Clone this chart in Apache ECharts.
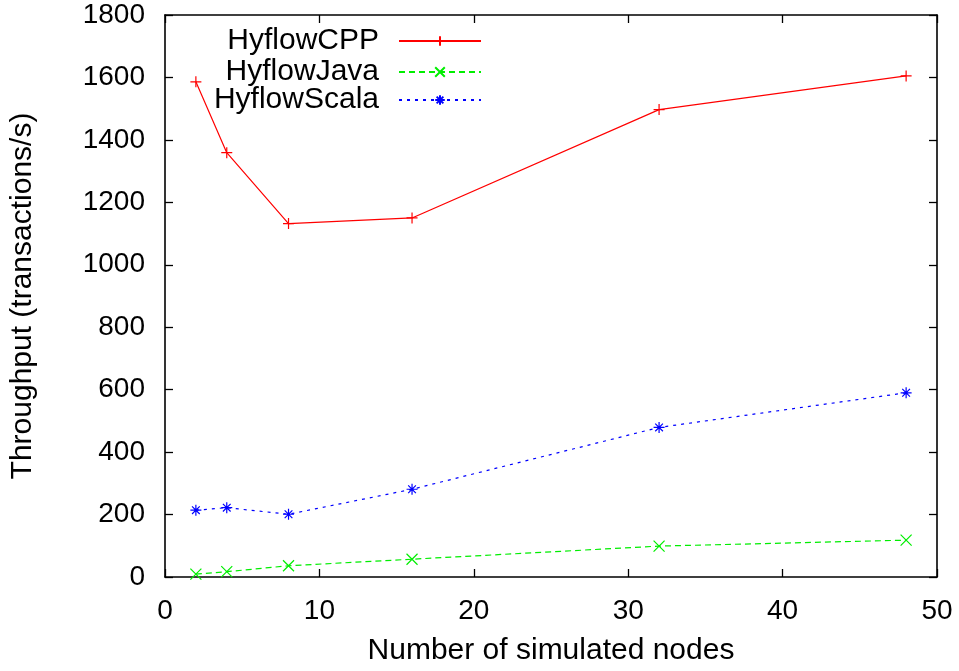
<!DOCTYPE html>
<html>
<head>
<meta charset="utf-8">
<script src="https://cdn.jsdelivr.net/npm/echarts@6/dist/echarts.min.js"></script>
<style>
  html, body { margin: 0; padding: 0; background: #fff; }
  #chart { width: 959px; height: 671px; }
</style>
</head>
<body>
<div id="chart"></div>
<script>
const nodes = [2, 4, 8, 16, 32, 48]
const cppValues = [1586, 1359, 1132, 1150, 1497, 1605]
const javaValues = [9, 17, 36, 57, 99, 118]
const scalaValues = [214, 222, 201, 281, 479, 590]
const seriesNames = ['HyflowCPP', 'HyflowJava', 'HyflowScala']

const font = 'Liberation Sans, Arial, Helvetica, sans-serif'
const plusPath = 'path://M0,5L10,5M5,0L5,10'
const crossPath = 'path://M0,0L10,10M10,0L0,10'
const starPath = 'path://M0,5L10,5M5,0L5,10M1.5,1.5L8.5,8.5M8.5,1.5L1.5,8.5'

const mChart = echarts.init(document.getElementById('chart'))

const pairs = vals => nodes.map((n, i) => [n, vals[i]])

const makeSeries = (name, vals, color, symbol, lineType) => ({
    name,
    type: 'line',
    data: pairs(vals),
    symbol,
    symbolSize: 11,
    showAllSymbol: true,
    lineStyle: { color, width: 1.2, type: lineType },
    itemStyle: { color, borderColor: color, borderWidth: 1.2 },
    emphasis: { disabled: true },
    animation: false
})

// gnuplot style key: text on the left, sample line on the right
const legendRow = (name, top) => ({
    data: [name],
    right: 477,
    top,
    align: 'right',
    padding: 0,
    itemWidth: 82,
    itemHeight: 12,
    selectedMode: false,
    textStyle: { fontFamily: font, fontSize: 30, color: '#000', padding: [0, 15, 0, 0] }
})

const axisLine = { show: true, onZero: false, lineStyle: { color: '#000', width: 1.6 } }
const axisTick = { show: true, inside: true, length: 8, lineStyle: { color: '#000', width: 1.3 } }
const tickFont = { fontFamily: font, fontSize: 28, color: '#000' }
const nameFont = { fontFamily: font, fontSize: 30, color: '#000' }

const mirrorAxis = {
    axisLabel: { show: false },
    axisLine,
    axisTick,
    splitLine: { show: false }
}

const option = {
    backgroundColor: '#fff',
    animation: false,
    grid: { left: 162, right: 22, top: 15, bottom: 92 },
    legend: [
        legendRow(seriesNames[0], 26),
        legendRow(seriesNames[1], 57),
        legendRow(seriesNames[2], 85)
    ],
    xAxis: [
        {
            type: 'value',
            min: 0,
            max: 50,
            interval: 10,
            name: 'Number of simulated nodes',
            nameLocation: 'middle',
            nameGap: 59,
            nameTextStyle: nameFont,
            axisLine,
            axisTick,
            axisLabel: Object.assign({ margin: 20 }, tickFont),
            splitLine: { show: false }
        },
        Object.assign({ type: 'value', position: 'top', min: 0, max: 50, interval: 10 }, mirrorAxis)
    ],
    yAxis: [
        {
            type: 'value',
            min: 0,
            max: 1800,
            interval: 200,
            name: 'Throughput (transactions/s)',
            nameLocation: 'middle',
            nameGap: 127,
            nameTextStyle: nameFont,
            axisLine,
            axisTick,
            axisLabel: Object.assign({ margin: 20, formatter: v => String(v) }, tickFont),
            splitLine: { show: false }
        },
        Object.assign({ type: 'value', position: 'right', min: 0, max: 1800, interval: 200 }, mirrorAxis)
    ],
    series: [
        makeSeries(seriesNames[0], cppValues, '#ff0000', plusPath, 'solid'),
        makeSeries(seriesNames[1], javaValues, '#00ee00', crossPath, [6, 4]),
        makeSeries(seriesNames[2], scalaValues, '#0000ff', starPath, [3, 5])
    ]
}

mChart.setOption(option)
</script>
</body>
</html>
